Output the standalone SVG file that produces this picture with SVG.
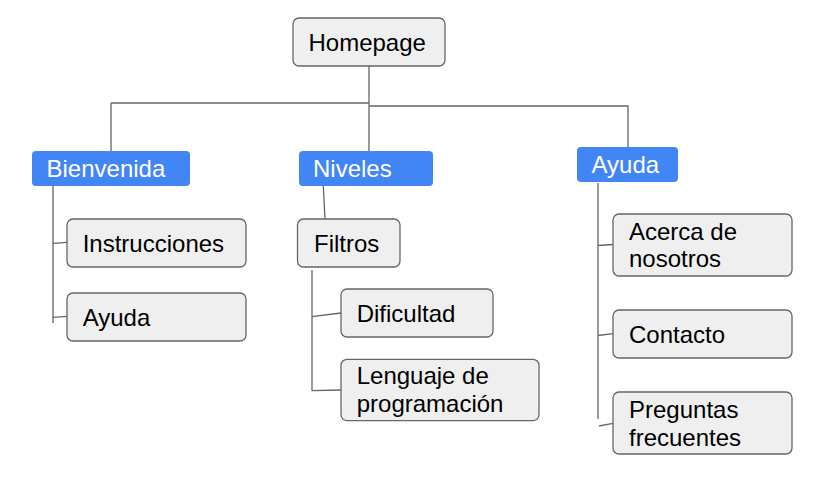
<svg xmlns="http://www.w3.org/2000/svg" width="816" height="500" viewBox="0 0 816 500">
<style>
.box{fill:#efefef;stroke:#666;stroke-width:1.3}
.cat{fill:#4285f4;stroke:none}
.t{font-family:"Liberation Sans",Arial,sans-serif;font-size:24px;fill:#000}
.w{font-family:"Liberation Sans",Arial,sans-serif;font-size:24px;fill:#fff}
.c{fill:none;stroke:#666;stroke-width:1.3}
</style>
<rect width="816" height="500" fill="#fff"/>
<g id="connectors">
<path class="c" d="M369,66 V103 M111,103 H369 M111,103 V151 M369,103 V151 M369,106 H628 V147"/>
<path class="c" d="M53,186 V323 M53,243.3 L67,242.3 M53,317.3 L67,316.3"/>
<path class="c" d="M323.3,186 L325,219"/>
<path class="c" d="M312,270 V391 M312,316.7 L341,313 M312,390.7 L341,390"/>
<path class="c" d="M598,183 V419 M598,245.5 L613,244.5 M598,335.5 L613,333.7 M599,426 L613,423.3"/>
</g>
<g id="homepage"><rect class="box" x="293" y="18" width="152" height="48" rx="6"/><text class="t" x="308.5" y="50.5">Homepage</text></g>
<g id="bienvenida"><rect class="cat" x="32" y="151" width="158" height="35" rx="4"/><text class="w" x="46.5" y="176.5">Bienvenida</text></g>
<g id="niveles"><rect class="cat" x="299" y="151" width="134" height="35" rx="4"/><text class="w" x="313" y="176.5">Niveles</text></g>
<g id="ayuda-cat"><rect class="cat" x="577" y="147" width="101" height="35" rx="4"/><text class="w" x="591.5" y="173">Ayuda</text></g>
<g id="instrucciones"><rect class="box" x="67" y="219" width="179" height="48" rx="6"/><text class="t" x="82.7" y="251.7">Instrucciones</text></g>
<g id="ayuda"><rect class="box" x="67" y="293" width="179" height="48" rx="6"/><text class="t" x="82.7" y="325.7">Ayuda</text></g>
<g id="filtros"><rect class="box" x="297.5" y="219" width="102.5" height="48" rx="6"/><text class="t" x="314" y="251.7">Filtros</text></g>
<g id="dificultad"><rect class="box" x="341" y="289" width="152" height="48" rx="6"/><text class="t" x="356.7" y="321.7">Dificultad</text></g>
<g id="lenguaje"><rect class="box" x="341" y="359.3" width="198" height="61.3" rx="6"/><text class="t" x="356.7" y="384">Lenguaje de</text><text class="t" x="356.7" y="411.7">programación</text></g>
<g id="acerca"><rect class="box" x="613" y="214" width="179" height="62" rx="6"/><text class="t" x="629" y="239.5">Acerca de</text><text class="t" x="629" y="267">nosotros</text></g>
<g id="contacto"><rect class="box" x="613" y="310" width="179" height="48" rx="6"/><text class="t" x="629" y="342.5">Contacto</text></g>
<g id="preguntas"><rect class="box" x="613" y="392" width="179" height="62" rx="6"/><text class="t" x="629" y="417.5">Preguntas</text><text class="t" x="629" y="445.5">frecuentes</text></g>
</svg>
